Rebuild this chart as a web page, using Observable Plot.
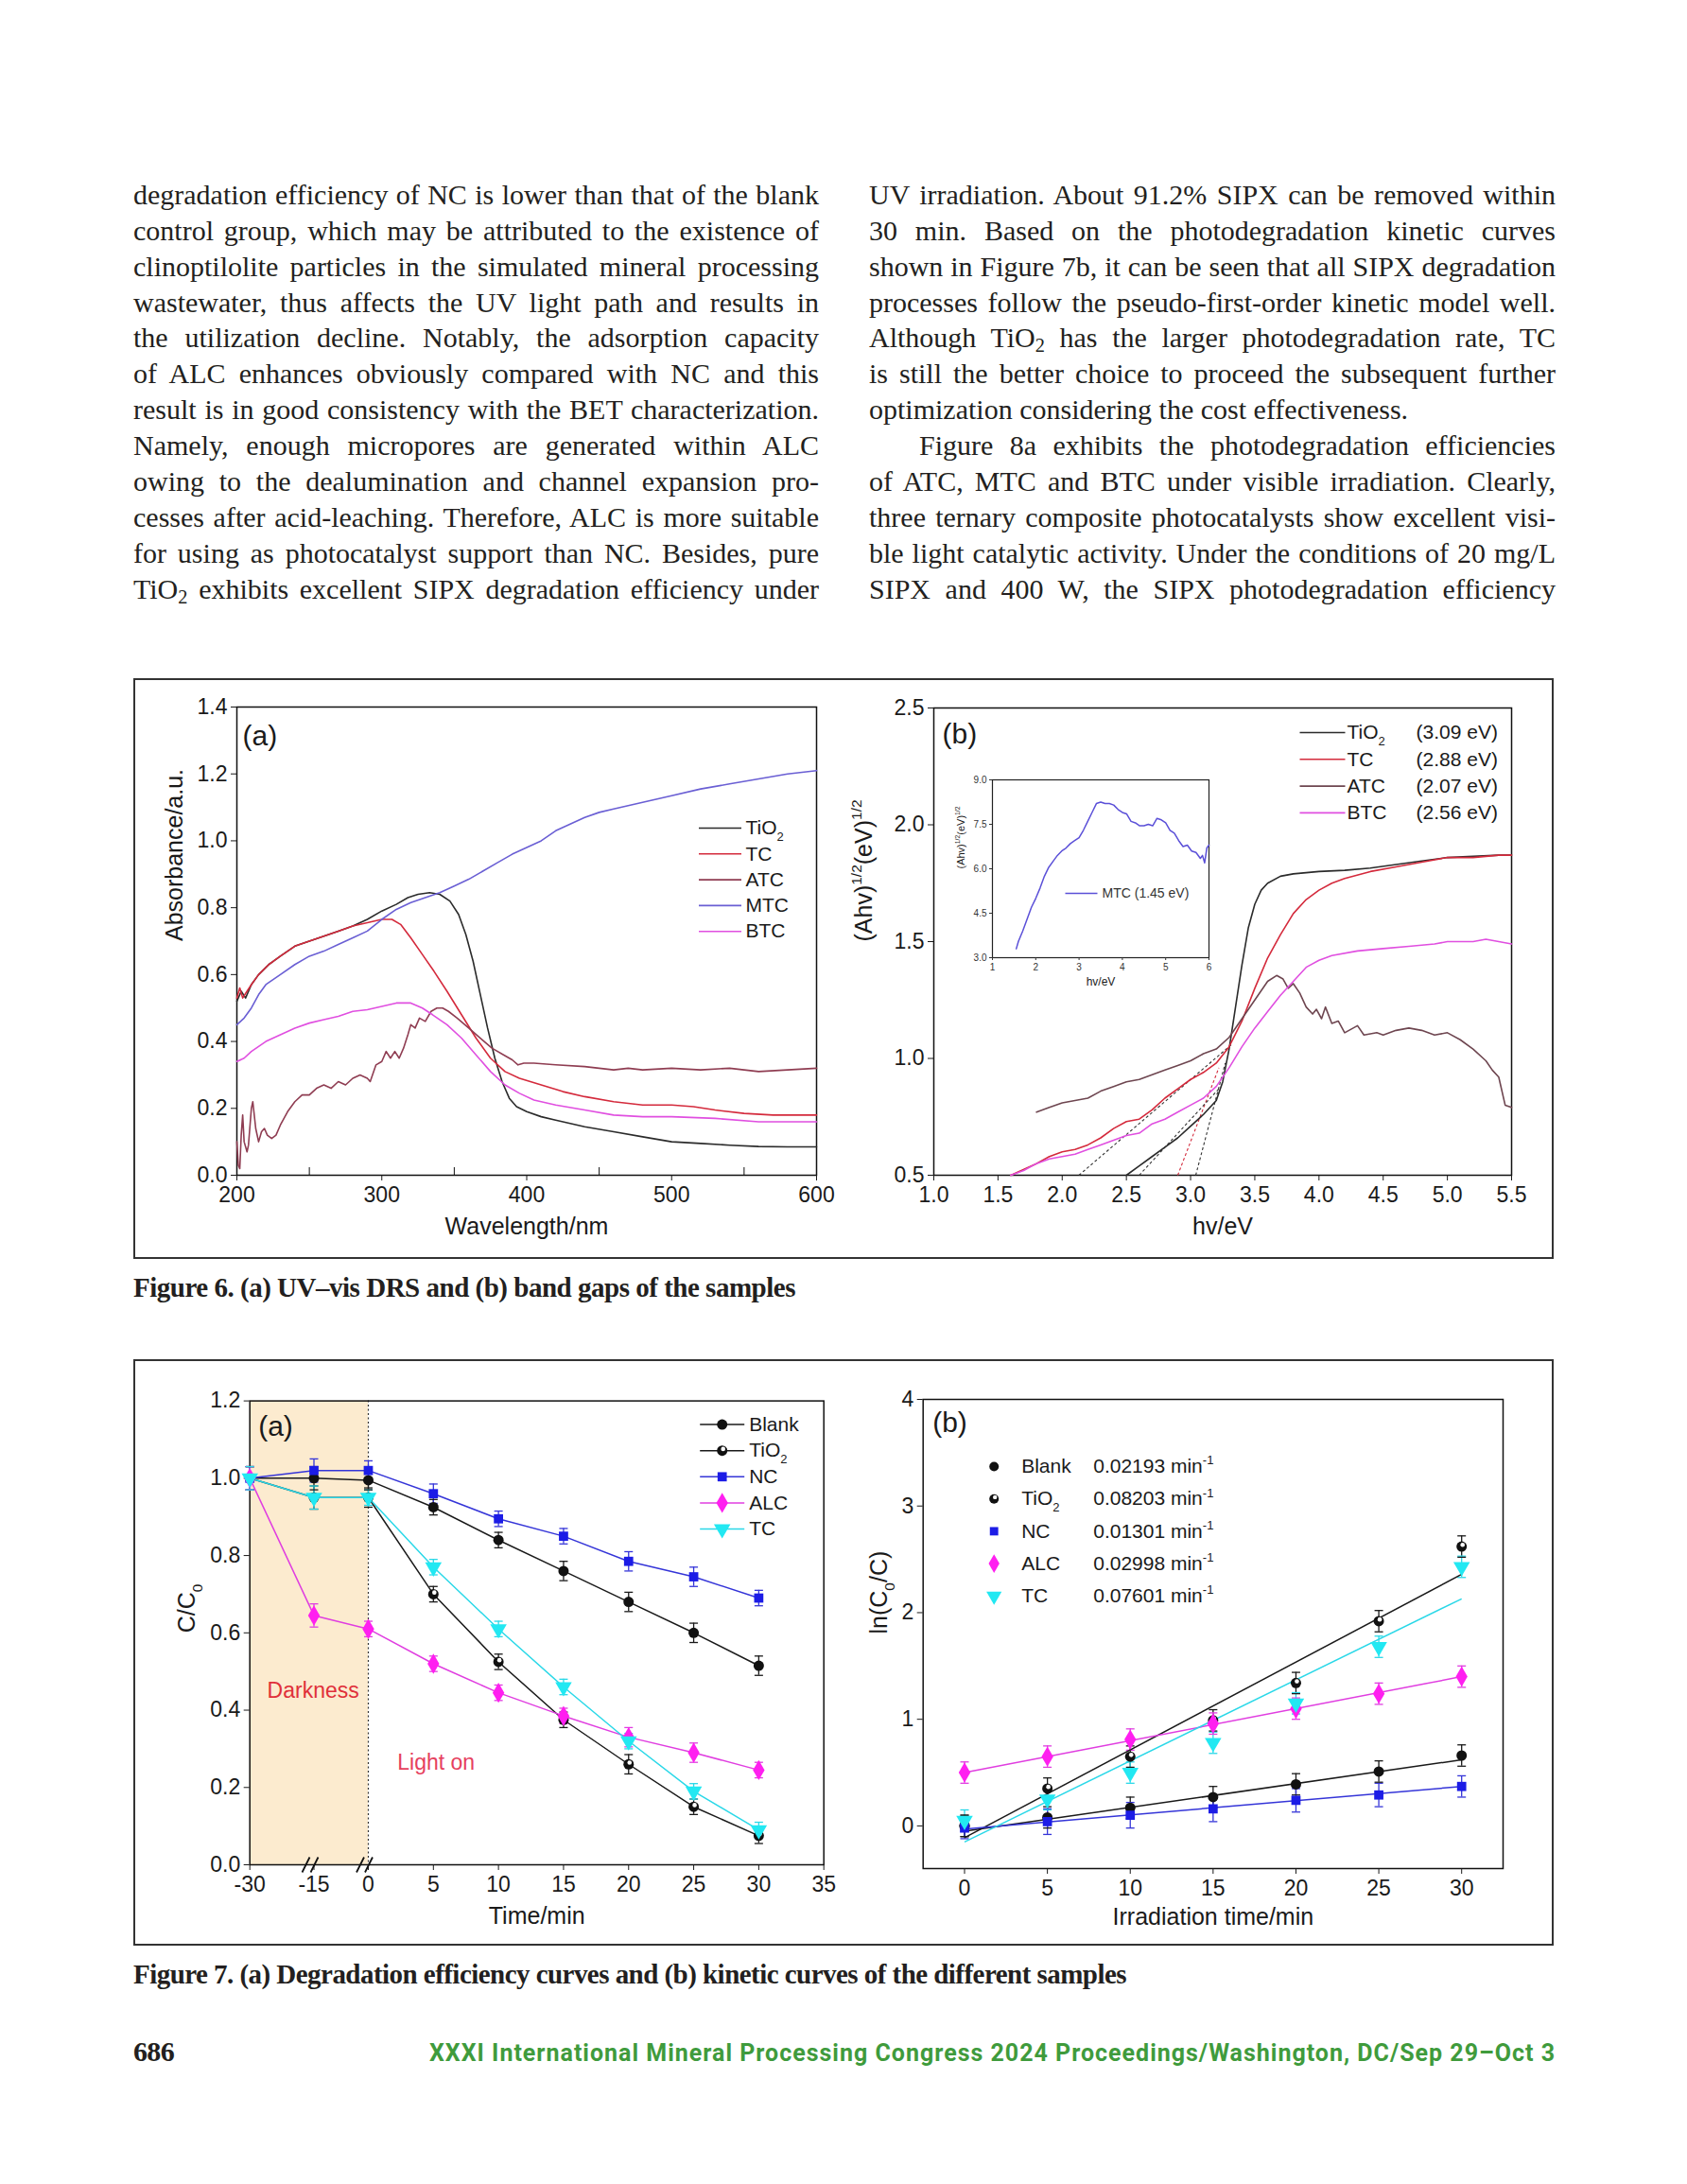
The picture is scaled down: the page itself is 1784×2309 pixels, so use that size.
<!DOCTYPE html>
<html><head><meta charset="utf-8">
<script src="https://cdn.jsdelivr.net/npm/d3@7"></script>
<script src="https://cdn.jsdelivr.net/npm/@observablehq/plot@0.6"></script>
<style>
html,body{margin:0;padding:0;background:#fff;}
#page{position:relative;width:1784px;height:2309px;background:#fff;overflow:hidden;}
#page sub{font-size:0.68em;vertical-align:-0.24em;line-height:0;}
.box{position:absolute;border:2px solid #333;box-sizing:border-box;}
</style></head>
<body><div id="page"></div>
<script>
// ================= DATA =================
// Body text lines
const leftLines = [
 "degradation efficiency of NC is lower than that of the blank",
 "control group, which may be attributed to the existence of",
 "clinoptilolite particles in the simulated mineral processing",
 "wastewater, thus affects the UV light path and results in",
 "the utilization decline. Notably, the adsorption capacity",
 "of ALC enhances obviously compared with NC and this",
 "result is in good consistency with the BET characterization.",
 "Namely, enough micropores are generated within ALC",
 "owing to the dealumination and channel expansion pro-",
 "cesses after acid-leaching. Therefore, ALC is more suitable",
 "for using as photocatalyst support than NC. Besides, pure",
 "TiO<sub>2</sub> exhibits excellent SIPX degradation efficiency under"
];
const rightLines = [
 "UV irradiation. About 91.2% SIPX can be removed within",
 "30 min. Based on the photodegradation kinetic curves",
 "shown in Figure 7b, it can be seen that all SIPX degradation",
 "processes follow the pseudo-first-order kinetic model well.",
 "Although TiO<sub>2</sub> has the larger photodegradation rate, TC",
 "is still the better choice to proceed the subsequent further",
 "optimization considering the cost effectiveness.",
 "Figure 8a exhibits the photodegradation efficiencies",
 "of ATC, MTC and BTC under visible irradiation. Clearly,",
 "three ternary composite photocatalysts show excellent visi-",
 "ble light catalytic activity. Under the conditions of 20 mg/L",
 "SIPX and 400 W, the SIPX photodegradation efficiency"
];
const caption6 = "Figure 6. (a) UV–vis DRS and (b) band gaps of the samples";
const caption7 = "Figure 7. (a) Degradation efficiency curves and (b) kinetic curves of the different samples";
const pageNumber = "686";
const footerText = "XXXI International Mineral Processing Congress 2024 Proceedings/Washington, DC/Sep 29–Oct 3";

// Figure 6a: UV-vis DRS [wavelength nm, absorbance]
const uvNames = ["TiO_{2}", "TC", "ATC", "MTC", "BTC"];
const uvTiO2 = [[200,0.52],[203,0.55],[206,0.53],[210,0.57],[215,0.6],[222,0.63],[230,0.655],[240,0.685],[250,0.7],[260,0.715],[270,0.73],[280,0.745],[290,0.765],[300,0.79],[310,0.81],[318,0.83],[325,0.84],[333,0.845],[340,0.84],[347,0.82],[353,0.78],[358,0.72],[363,0.64],[368,0.54],[373,0.44],[378,0.35],[383,0.28],[388,0.23],[393,0.205],[400,0.19],[410,0.175],[420,0.165],[440,0.145],[460,0.13],[480,0.115],[500,0.1],[520,0.095],[540,0.09],[560,0.086],[580,0.085],[600,0.085]];
const uvTC = [[200,0.53],[202,0.56],[204,0.53],[207,0.55],[210,0.57],[215,0.6],[222,0.63],[230,0.655],[240,0.685],[250,0.7],[260,0.715],[270,0.73],[280,0.745],[290,0.755],[300,0.765],[307,0.765],[313,0.75],[320,0.71],[328,0.66],[336,0.61],[345,0.55],[355,0.48],[365,0.41],[375,0.35],[385,0.31],[395,0.29],[410,0.27],[425,0.25],[440,0.235],[460,0.22],[480,0.21],[500,0.21],[515,0.205],[530,0.195],[550,0.185],[570,0.18],[600,0.18]];
const uvATC = [[200,0.1],[201,0.03],[202,0.02],[203,0.12],[204,0.18],[205,0.1],[207,0.07],[208,0.09],[210,0.2],[211,0.22],[213,0.14],[215,0.1],[217,0.13],[219,0.14],[221,0.12],[224,0.11],[227,0.12],[230,0.15],[235,0.19],[240,0.22],[245,0.24],[250,0.24],[255,0.26],[260,0.27],[265,0.26],[270,0.28],[275,0.27],[280,0.29],[285,0.3],[290,0.29],[292,0.28],[296,0.33],[300,0.34],[303,0.37],[306,0.35],[309,0.37],[312,0.35],[315,0.38],[318,0.42],[320,0.45],[323,0.44],[326,0.47],[330,0.46],[334,0.49],[338,0.5],[342,0.5],[346,0.49],[352,0.47],[360,0.44],[368,0.41],[376,0.38],[384,0.36],[390,0.345],[394,0.33],[398,0.335],[405,0.335],[420,0.33],[440,0.325],[460,0.315],[470,0.32],[480,0.315],[500,0.32],[520,0.315],[540,0.32],[560,0.31],[580,0.315],[600,0.32]];
const uvMTC = [[200,0.45],[205,0.47],[210,0.5],[215,0.54],[220,0.57],[230,0.6],[240,0.63],[250,0.655],[260,0.67],[270,0.69],[280,0.71],[290,0.73],[300,0.765],[310,0.795],[320,0.815],[330,0.83],[340,0.845],[350,0.865],[360,0.885],[370,0.91],[380,0.935],[390,0.96],[400,0.98],[410,1.0],[420,1.03],[430,1.05],[440,1.07],[450,1.085],[460,1.095],[470,1.105],[480,1.115],[490,1.125],[500,1.135],[520,1.155],[540,1.17],[560,1.185],[580,1.2],[600,1.21]];
const uvBTC = [[200,0.34],[205,0.35],[210,0.37],[220,0.4],[230,0.42],[240,0.44],[250,0.455],[260,0.465],[270,0.475],[280,0.49],[290,0.495],[295,0.5],[300,0.505],[310,0.515],[320,0.515],[328,0.5],[335,0.48],[345,0.45],[355,0.41],[365,0.36],[375,0.31],[385,0.27],[395,0.245],[405,0.225],[420,0.21],[440,0.195],[460,0.18],[480,0.175],[500,0.175],[530,0.17],[560,0.16],[600,0.16]];
const uvTicksX = [200,300,400,500,600];
const uvMinorX = [250,350,450,550];
const uvTicksY = [0,0.2,0.4,0.6,0.8,1.0,1.2,1.4];

// Figure 6b: Tauc plot [hv eV, (Ahv)^1/2]
const bgNames = ["TiO_{2}", "TC", "ATC", "BTC"];
const bgGaps = ["(3.09 eV)", "(2.88 eV)", "(2.07 eV)", "(2.56 eV)"];
const bgTiO2 = [[2.5,0.5],[2.6,0.54],[2.7,0.58],[2.8,0.62],[2.9,0.66],[3.0,0.71],[3.1,0.76],[3.2,0.82],[3.25,0.9],[3.3,1.04],[3.35,1.22],[3.4,1.4],[3.45,1.56],[3.5,1.66],[3.55,1.72],[3.6,1.75],[3.7,1.78],[3.8,1.79],[3.9,1.795],[4.0,1.8],[4.2,1.805],[4.4,1.815],[4.6,1.83],[4.8,1.845],[5.0,1.86],[5.2,1.865],[5.4,1.87],[5.5,1.87]];
const bgTC = [[1.6,0.5],[1.8,0.55],[1.9,0.58],[2.0,0.6],[2.1,0.61],[2.2,0.63],[2.3,0.66],[2.4,0.7],[2.5,0.73],[2.6,0.74],[2.7,0.78],[2.8,0.83],[2.9,0.87],[3.0,0.91],[3.1,0.94],[3.2,0.98],[3.3,1.05],[3.4,1.16],[3.5,1.3],[3.6,1.43],[3.7,1.53],[3.8,1.62],[3.9,1.68],[4.0,1.72],[4.1,1.75],[4.2,1.77],[4.4,1.8],[4.6,1.82],[4.8,1.84],[5.0,1.86],[5.2,1.86],[5.4,1.87],[5.5,1.87]];
const bgATC = [[1.8,0.77],[1.9,0.79],[2.0,0.81],[2.1,0.82],[2.2,0.83],[2.3,0.86],[2.4,0.88],[2.5,0.9],[2.6,0.91],[2.7,0.93],[2.8,0.95],[2.9,0.97],[3.0,0.99],[3.1,1.02],[3.2,1.04],[3.3,1.09],[3.4,1.17],[3.5,1.25],[3.6,1.33],[3.67,1.355],[3.72,1.34],[3.76,1.3],[3.8,1.32],[3.85,1.28],[3.9,1.22],[3.95,1.19],[3.98,1.21],[4.02,1.17],[4.05,1.22],[4.1,1.15],[4.15,1.16],[4.2,1.11],[4.3,1.14],[4.35,1.1],[4.45,1.11],[4.5,1.1],[4.6,1.12],[4.7,1.13],[4.8,1.12],[4.9,1.1],[5.0,1.11],[5.1,1.08],[5.2,1.04],[5.3,0.99],[5.35,0.95],[5.4,0.92],[5.45,0.8],[5.5,0.79]];
const bgBTC = [[1.6,0.5],[1.7,0.52],[1.8,0.55],[1.9,0.57],[2.0,0.58],[2.1,0.59],[2.2,0.61],[2.3,0.63],[2.4,0.65],[2.5,0.67],[2.6,0.68],[2.7,0.72],[2.8,0.74],[2.9,0.77],[3.0,0.8],[3.1,0.83],[3.2,0.88],[3.3,0.96],[3.4,1.05],[3.5,1.13],[3.6,1.2],[3.7,1.27],[3.8,1.33],[3.9,1.39],[4.0,1.42],[4.1,1.44],[4.3,1.46],[4.5,1.47],[4.7,1.48],[4.9,1.49],[5.0,1.5],[5.2,1.5],[5.3,1.51],[5.4,1.5],[5.5,1.49]];
const tanX0 = [3.04, 2.9, 2.13, 2.6];
const tanY0 = [0.5, 0.5, 0.5, 0.5];
const tanX1 = [3.27, 3.22, 3.32, 3.22];
const tanY1 = [0.98, 0.96, 1.06, 0.87];
const bgTicksX = [1.0,1.5,2.0,2.5,3.0,3.5,4.0,4.5,5.0,5.5];
const bgTicksY = [0.5,1.0,1.5,2.0,2.5];
// inset: MTC
const insetLabel = "MTC (1.45 eV)";
const insetMTC = [[1.55,3.3],[1.6,3.55],[1.7,3.9],[1.8,4.3],[1.9,4.7],[2.0,5.0],[2.1,5.35],[2.2,5.75],[2.3,6.05],[2.4,6.25],[2.5,6.45],[2.6,6.6],[2.7,6.7],[2.8,6.85],[2.9,6.95],[3.0,7.05],[3.1,7.3],[3.2,7.6],[3.3,7.9],[3.4,8.2],[3.5,8.25],[3.6,8.2],[3.7,8.2],[3.8,8.15],[3.9,8.0],[4.0,7.9],[4.1,7.85],[4.2,7.6],[4.3,7.55],[4.4,7.45],[4.5,7.45],[4.6,7.5],[4.7,7.45],[4.8,7.7],[4.9,7.65],[5.0,7.55],[5.1,7.3],[5.2,7.2],[5.3,6.95],[5.4,6.75],[5.5,6.8],[5.6,6.6],[5.7,6.55],[5.8,6.35],[5.85,6.45],[5.9,6.2],[5.95,6.7],[6.0,6.8]];
const insetTicksX = [1,2,3,4,5,6];
const insetTicksY = [3.0,4.5,6.0,7.5,9.0];

// Figure 7a: C/C0 vs time
const kinNames = ["Blank", "TiO_{2}", "NC", "ALC", "TC"];
const timeA = [-30,-15,0,5,10,15,20,25,30];
const ccBlank = [1.0,1.0,0.995,0.925,0.84,0.76,0.68,0.6,0.515];
const ccTiO2 = [1.0,0.95,0.95,0.7,0.525,0.375,0.26,0.15,0.075];
const ccNC = [1.0,1.02,1.02,0.96,0.895,0.85,0.785,0.745,0.69];
const ccALC = [1.0,0.645,0.61,0.52,0.445,0.385,0.33,0.29,0.245];
const ccTC = [1.0,0.95,0.95,0.77,0.61,0.46,0.32,0.19,0.09];
const ccErrBlank = [0.03,0.03,0.025,0.02,0.02,0.025,0.025,0.025,0.025];
const ccErrTiO2 = [0.03,0.03,0.025,0.02,0.02,0.02,0.025,0.02,0.02];
const ccErrNC = [0.03,0.03,0.025,0.025,0.02,0.02,0.025,0.025,0.02];
const ccErrALC = [0.03,0.03,0.02,0.02,0.02,0.02,0.025,0.025,0.02];
const ccErrTC = [0.03,0.03,0.02,0.02,0.02,0.02,0.02,0.02,0.02];
const timeTicksA = [-30,-15,0,5,10,15,20,25,30,35];
const axisBreaks = [-15, 0];
const darkPeriod = [-30, 0];
const ccTicksY = [0,0.2,0.4,0.6,0.8,1.0,1.2];

// Figure 7b: ln(C0/C) vs time
const timeB = [0,5,10,15,20,25,30];
const lnBlank = [0.0,0.08,0.17,0.27,0.39,0.51,0.66];
const lnTiO2 = [0.0,0.35,0.65,0.99,1.34,1.92,2.62];
const lnNC = [-0.02,0.04,0.1,0.16,0.24,0.29,0.37];
const lnALC = [0.5,0.65,0.81,0.96,1.1,1.24,1.4];
const lnTC = [0.05,0.25,0.5,0.78,1.15,1.68,2.43];
const lnErrBlank = [0.1,0.1,0.1,0.1,0.1,0.1,0.1];
const lnErrTiO2 = [0.1,0.1,0.1,0.1,0.1,0.1,0.1];
const lnErrNC = [0.1,0.12,0.12,0.12,0.11,0.11,0.1];
const lnErrALC = [0.1,0.1,0.1,0.1,0.1,0.1,0.1];
const lnErrTC = [0.1,0.1,0.1,0.1,0.1,0.1,0.1];
const fitT = [0, 30];
const fitStart = [-0.05, -0.11, -0.03, 0.5, -0.15];
const fitEnd = [0.62, 2.36, 0.37, 1.4, 2.13];
const rateLabels = ["0.02193 min^{-1}", "0.08203 min^{-1}", "0.01301 min^{-1}", "0.02998 min^{-1}", "0.07601 min^{-1}"];
const timeTicksB = [0,5,10,15,20,25,30];
const lnTicksY = [0,1,2,3,4];

// ================= STYLES =================
const uvColors = ["#2b2b2b", "#d42a3c", "#8f3d52", "#6a5fd4", "#e04fe0"];
const bgColors = ["#2b2b2b", "#d42a3c", "#6e4650", "#e04fe0"];
const tanColors = ["#333", "#d42a3c", "#333", "#333"];
const kinLine = ["#1a1a1a", "#1a1a1a", "#3535d8", "#e03ee0", "#2ad8e8"];
const kinFill = ["#111", "#111", "#1c1ce6", "#ff1ff0", "#22e8f2"];
const kinSymbol = ["circle", "circle", "square", "diamond", "triangle"];
const kinRotate = [0, 0, 0, 0, 180];
const kinR = [5.5, 5.5, 5.5, 6.5, 6.5];
const SANS = '"Liberation Sans", Arial, sans-serif';
const SERIF = '"Liberation Serif", "Times New Roman", serif';
const baseStyle = {fontFamily: SANS, fontSize: "23px", color: "#1a1a1a", background: "transparent", overflow: "visible"};

// ================= HELPERS =================
const page = document.getElementById("page");
const NS = "http://www.w3.org/2000/svg";

function hline(len) { return {draw(ctx) { ctx.moveTo(-len / 2, 0); ctx.lineTo(len / 2, 0); }}; }
// axis-break symbol: two slanted strokes
const breakSymbol = {draw(ctx) { for (const o of [-4.5, 4.5]) { ctx.moveTo(o - 4, 8); ctx.lineTo(o + 4, -8); } }};

function richify(svg) {
  svg.querySelectorAll("text").forEach(t => {
    const s = t.textContent;
    if (!/[_^]\{/.test(s)) return;
    const fs = parseFloat(getComputedStyle(t).fontSize) || 16;
    while (t.firstChild) t.removeChild(t.firstChild);
    const re = /([_^])\{([^}]*)\}/g;
    let last = 0, m, shift = 0;
    const add = (txt, kind) => {
      const ts = document.createElementNS(NS, "tspan");
      ts.textContent = txt;
      const target = kind === "_" ? fs * 0.32 : kind === "^" ? -fs * 0.42 : 0;
      const d = target - shift;
      if (d) ts.setAttribute("dy", d);
      shift = target;
      if (kind) ts.setAttribute("font-size", fs * 0.62);
      t.appendChild(ts);
    };
    while ((m = re.exec(s))) {
      if (m.index > last) add(s.slice(last, m.index), null);
      add(m[2], m[1]);
      last = re.lastIndex;
    }
    if (last < s.length) add(s.slice(last), null);
  });
}

function place(el, left, top) {
  el.style.position = "absolute";
  el.style.left = left + "px";
  el.style.top = top + "px";
  page.appendChild(el);
  richify(el);
}

function textLine(html, left, baseline, width, {fs = 30, justify = true, weight = "normal", family = SERIF, color = "#231f20", fit = false} = {}) {
  const d = document.createElement("div");
  d.innerHTML = html;
  Object.assign(d.style, {position: "absolute", left: left + "px", top: (baseline - fs * 0.8375) + "px",
    fontFamily: family, fontSize: fs + "px", lineHeight: fs + "px", whiteSpace: "nowrap", color, fontWeight: weight});
  page.appendChild(d);
  const w = d.getBoundingClientRect().width;
  if (justify) {
    const n = (d.textContent.match(/ /g) || []).length;
    if (n) d.style.wordSpacing = ((width - w) / n) + "px";
  }
  if (fit) {
    const n = d.textContent.length;
    if (n > 1) d.style.letterSpacing = ((width - w) / n) + "px";
  }
  return d;
}

function box(left, top, w, h) {
  const b = document.createElement("div");
  b.className = "box";
  Object.assign(b.style, {left: left + "px", top: top + "px", width: w + "px", height: h + "px"});
  page.appendChild(b);
}

const yTitle = (t, dx, fs = 25) => Plot.text([t], {frameAnchor: "left", rotate: -90, dx, fontSize: fs, text: d => d, fill: "#1a1a1a", lineAnchor: "middle"});
const xTitle = (t, dy, fs = 25) => Plot.text([t], {frameAnchor: "bottom", dy, fontSize: fs, text: d => d, fill: "#1a1a1a", lineAnchor: "middle"});
const cornerText = (t, dx, dy, opts = {}) => Plot.text([t], {frameAnchor: "top-left", dx, dy, text: d => d, textAnchor: "start", lineAnchor: "middle", fill: "#1a1a1a", ...opts});
const cornerDot = (dx, dy, opts) => Plot.dot([0], {frameAnchor: "top-left", dx, dy, ...opts});

// ================= BODY TEXT =================
const LINE0 = 216, LEAD = 37.9;
leftLines.forEach((l, i) => textLine(l, 141, LINE0 + i * LEAD, 725));
rightLines.forEach((l, i) => {
  const indent = i === 7 ? 53 : 0;
  textLine(l, 919 + indent, LINE0 + i * LEAD, 726 - indent, {justify: i !== 6});
});

// ================= FIGURE 6 =================
box(141, 717, 1502, 614);

// 6a
const uvSets = [uvTiO2, uvTC, uvATC, uvMTC, uvBTC];
const uvRows = uvSets.flatMap((set, i) => set.map(([x, y]) => ({i, x, y})));
const fig6a = Plot.plot({
  width: 743, height: 613, marginLeft: 109, marginRight: 21, marginTop: 30, marginBottom: 88,
  x: {domain: [200, 600]}, y: {domain: [0, 1.4]}, color: {type: "identity"},
  style: baseStyle,
  marks: [
    Plot.frame({stroke: "#111", strokeWidth: 1.5}),
    Plot.axisX({ticks: uvTicksX, tickFormat: d => String(d), tickSize: 6, tickPadding: 6, label: null}),
    Plot.ruleX(uvMinorX, {x: d => d, insetTop: 487, stroke: "#111"}),
    Plot.axisY({ticks: uvTicksY, tickFormat: d3.format(".1f"), tickSize: 6, tickPadding: 4, label: null}),
    Plot.line(uvRows, {x: "x", y: "y", z: "i", stroke: d => uvColors[d.i], strokeWidth: 1.6}),
    ...uvNames.flatMap((n, i) => [
      cornerDot(511, 128 + i * 27.3, {symbol: hline(45), stroke: uvColors[i], fill: "none", strokeWidth: 1.6}),
      cornerText(n, 538, 128 + i * 27.3, {fontSize: 21})
    ]),
    cornerText("(a)", 6, 31, {fontSize: 30}),
    yTitle("Absorbance/a.u.", -66),
    xTitle("Wavelength/nm", 54)
  ]
});
place(fig6a, 141, 717);

// 6b
const bgSets = [bgTiO2, bgTC, bgATC, bgBTC];
const bgRows = bgSets.flatMap((set, i) => set.map(([x, y]) => ({i, x, y})));
const tanIdx = tanX0.map((_, i) => i);
const fig6b = Plot.plot({
  width: 759, height: 613, marginLeft: 103, marginRight: 45, marginTop: 31, marginBottom: 88,
  x: {domain: [1, 5.5]}, y: {domain: [0.5, 2.5]}, color: {type: "identity"},
  style: baseStyle,
  marks: [
    Plot.frame({stroke: "#111", strokeWidth: 1.5}),
    Plot.axisX({ticks: bgTicksX, tickFormat: d3.format(".1f"), tickSize: 6, tickPadding: 6, label: null}),
    Plot.axisY({ticks: bgTicksY, tickFormat: d3.format(".1f"), tickSize: 6, tickPadding: 4, label: null}),
    Plot.link(tanIdx, {x1: i => tanX0[i], y1: i => tanY0[i], x2: i => tanX1[i], y2: i => tanY1[i], stroke: i => tanColors[i], strokeDasharray: "3,2.5", strokeWidth: 1.1}),
    Plot.line(bgRows, {x: "x", y: "y", z: "i", stroke: d => bgColors[d.i], strokeWidth: 1.6}),
    ...bgNames.flatMap((n, i) => [
      cornerDot(411, 26 + i * 28.3, {symbol: hline(48), stroke: bgColors[i], fill: "none", strokeWidth: 1.6}),
      cornerText(n, 437, 26 + i * 28.3, {fontSize: 21}),
      cornerText(bgGaps[i], 510, 26 + i * 28.3, {fontSize: 21})
    ]),
    cornerText("(b)", 9, 28, {fontSize: 30}),
    yTitle("(Ahv)^{1/2}(eV)^{1/2}", -74),
    xTitle("hv/eV", 54)
  ]
});
place(fig6b, 884, 717);

// 6b inset
const insetRows = insetMTC.map(([x, y]) => ({x, y}));
const inset = Plot.plot({
  width: 290, height: 245, marginLeft: 49, marginRight: 12, marginTop: 14, marginBottom: 43,
  x: {domain: [1, 6]}, y: {domain: [3, 9]},
  style: {...baseStyle, fontSize: "10px", color: "#333"},
  marks: [
    Plot.frame({stroke: "#222", strokeWidth: 1.2}),
    Plot.axisX({ticks: insetTicksX, tickFormat: d => String(d), tickSize: 3, tickPadding: 3, label: null}),
    Plot.axisY({ticks: insetTicksY, tickFormat: d3.format(".1f"), tickSize: 3, tickPadding: 3, label: null}),
    Plot.line(insetRows, {x: "x", y: "y", stroke: "#5b50d8", strokeWidth: 1.5}),
    cornerDot(94, 120, {symbol: hline(34), stroke: "#5b50d8", fill: "none", strokeWidth: 1.5}),
    cornerText(insetLabel, 116, 120, {fontSize: 14, fill: "#333"}),
    yTitle("(Ahv)^{1/2}(eV)^{1/2}", -33, 11),
    xTitle("hv/eV", 26, 12)
  ]
});
place(inset, 1000, 810);

textLine(caption6, 141, 1371, 700, {fs: 29, weight: "bold", justify: false, fit: true});

// ================= FIGURE 7 =================
box(141, 1437, 1502, 620);

// 7a
const ccValues = [ccBlank, ccTiO2, ccNC, ccALC, ccTC];
const ccErrors = [ccErrBlank, ccErrTiO2, ccErrNC, ccErrALC, ccErrTC];
const ccRows = kinNames.flatMap((s, i) => timeA.map((t, j) => ({i, t, v: ccValues[i][j], e: ccErrors[i][j]})));
const markerMarks = (rows) => kinNames.flatMap((n, i) => {
  const sub = rows.filter(d => d.i === i);
  const m = [Plot.dot(sub, {x: "t", y: "v", symbol: kinSymbol[i], fill: kinFill[i], r: kinR[i], rotate: kinRotate[i]})];
  if (i === 1) m.push(Plot.dot(sub, {x: "t", y: "v", r: 2.3, fill: "#fff", dx: 1, dy: -1.8}));
  return m;
});
const errMarks = (rows, capLen) => [
  Plot.ruleX(rows, {x: "t", y1: d => d.v - d.e, y2: d => d.v + d.e, stroke: d => kinLine[d.i], strokeWidth: 1.3}),
  Plot.dot(rows, {x: "t", y: d => d.v + d.e, symbol: hline(capLen), stroke: d => kinLine[d.i], fill: "none", strokeWidth: 1.3}),
  Plot.dot(rows, {x: "t", y: d => d.v - d.e, symbol: hline(capLen), stroke: d => kinLine[d.i], fill: "none", strokeWidth: 1.3})
];
const fig7a = Plot.plot({
  width: 743, height: 620, marginLeft: 122.7, marginRight: 13.3, marginTop: 43.6, marginBottom: 86,
  x: {type: "linear", domain: [-30, -15, 0, 35], range: [122.7, 190.5, 248, 729.7]},
  y: {domain: [0, 1.2]}, color: {type: "identity"},
  style: baseStyle,
  marks: [
    Plot.rect([darkPeriod], {x1: d => d[0], x2: d => d[1], fill: "#fcebcf"}),
    Plot.ruleX([0], {stroke: "#333", strokeDasharray: "2,2.5", strokeWidth: 1.2}),
    Plot.frame({stroke: "#111", strokeWidth: 1.5}),
    Plot.axisX({ticks: timeTicksA, tickFormat: d => String(d), tickSize: 6, tickPadding: 6, label: null}),
    Plot.axisY({ticks: ccTicksY, tickFormat: d3.format(".1f"), tickSize: 6, tickPadding: 4, label: null}),
    Plot.dot(axisBreaks, {x: d => d, frameAnchor: "bottom", symbol: breakSymbol, stroke: "#111", fill: "none", strokeWidth: 1.8, dx: -4}),
    Plot.line(ccRows, {x: "t", y: "v", z: "i", stroke: d => kinLine[d.i], strokeWidth: 1.5}),
    ...errMarks(ccRows, 9),
    ...markerMarks(ccRows),
    ...kinNames.flatMap((n, i) => {
      const dy = 25 + i * 27.6;
      const m = [
        cornerDot(499.5, dy, {symbol: hline(47), stroke: kinLine[i], fill: "none", strokeWidth: 1.5}),
        cornerDot(499.5, dy, {symbol: kinSymbol[i], fill: kinFill[i], r: kinR[i], rotate: kinRotate[i]}),
        cornerText(n, 528, dy, {fontSize: 21})
      ];
      if (i === 1) m.push(cornerDot(500.5, dy - 1.8, {r: 2.3, fill: "#fff"}));
      return m;
    }),
    cornerText("(a)", 9, 27, {fontSize: 30}),
    cornerText("Darkness", 67, 307, {fontSize: 23, fill: "#e0303a", textAnchor: "middle"}),
    cornerText("Light on", 197, 383, {fontSize: 23, fill: "#e6405e", textAnchor: "middle"}),
    yTitle("C/C_{0}", -66),
    xTitle("Time/min", 54)
  ]
});
place(fig7a, 141, 1437);

// 7b
const lnValues = [lnBlank, lnTiO2, lnNC, lnALC, lnTC];
const lnErrors = [lnErrBlank, lnErrTiO2, lnErrNC, lnErrALC, lnErrTC];
const lnRows = kinNames.flatMap((s, i) => timeB.map((t, j) => ({i, t, v: lnValues[i][j], e: lnErrors[i][j]})));
const kinIdx = kinNames.map((_, i) => i);
const fig7b = Plot.plot({
  width: 759, height: 620, marginLeft: 91.7, marginRight: 54, marginTop: 42, marginBottom: 82,
  x: {domain: [-2.5, 32.5]}, y: {domain: [-0.4, 4]}, color: {type: "identity"},
  style: baseStyle,
  marks: [
    Plot.frame({stroke: "#111", strokeWidth: 1.5}),
    Plot.axisX({ticks: timeTicksB, tickFormat: d => String(d), tickSize: 6, tickPadding: 6, label: null}),
    Plot.axisY({ticks: lnTicksY, tickFormat: d => String(d), tickSize: 6, tickPadding: 4, label: null}),
    ...errMarks(lnRows, 9),
    Plot.link(kinIdx, {x1: () => fitT[0], x2: () => fitT[1], y1: i => fitStart[i], y2: i => fitEnd[i], stroke: i => kinLine[i], strokeWidth: 1.5}),
    ...markerMarks(lnRows),
    ...kinNames.flatMap((n, i) => {
      const dy = 71 + i * 34.2;
      const m = [
        cornerDot(75, dy, {symbol: kinSymbol[i], fill: kinFill[i], r: kinR[i] - 0.5, rotate: kinRotate[i]}),
        cornerText(n, 104, dy, {fontSize: 21}),
        cornerText(rateLabels[i], 180, dy, {fontSize: 21})
      ];
      if (i === 1) m.push(cornerDot(76, dy - 1.8, {r: 2.2, fill: "#fff"}));
      return m;
    }),
    cornerText("(b)", 10, 25, {fontSize: 30}),
    yTitle("ln(C_{0}/C)", -46),
    xTitle("Irradiation time/min", 51)
  ]
});
place(fig7b, 884, 1437);

textLine(caption7, 141, 2097, 1050, {fs: 29, weight: "bold", justify: false, fit: true});

// ================= FOOTER =================
textLine(pageNumber, 141, 2179, 43, {fs: 30, weight: "bold", justify: false, fit: true});
textLine(footerText, 454, 2179, 1191, {fs: 25, weight: "bold", family: 'Roboto, "Liberation Sans", sans-serif', color: "#3f9b3c", justify: false, fit: true});
</script>
</body></html>
